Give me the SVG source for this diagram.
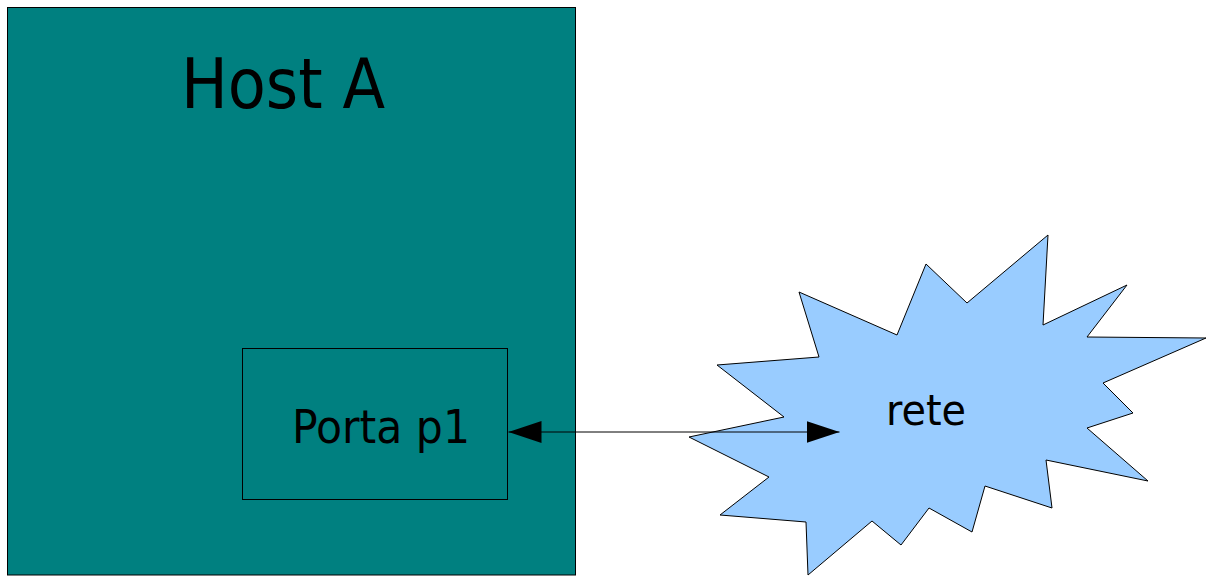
<svg xmlns="http://www.w3.org/2000/svg" width="1206" height="576" viewBox="0 0 1206 576">
  <style>
    .box { fill: #008080; stroke: #000; stroke-width: 1; }
    .label { font-family: "DejaVu Sans Condensed", "DejaVu Sans", sans-serif; font-stretch: condensed; fill: #000; }
    .cloud { fill: #99ccff; stroke: #000; stroke-width: 1; stroke-linejoin: miter; }
    .link { stroke: #000; stroke-width: 1; fill: none; }
  </style>
  <defs>
    <marker id="head" markerUnits="userSpaceOnUse" markerWidth="34" markerHeight="24" refX="33" refY="11" orient="auto-start-reverse">
      <path d="M0,0 L33,11 L0,22 Z" fill="#000"/>
    </marker>
  </defs>

  <g id="host-a">
    <rect class="box" x="7.5" y="7.5" width="568" height="567.5"/>
    <text class="label" x="181" y="108" font-size="69" textLength="204" lengthAdjust="spacingAndGlyphs">Host A</text>
  </g>

  <g id="porta-p1">
    <rect class="box" x="242.5" y="348.5" width="265" height="151"/>
    <text class="label" x="292" y="443" font-size="47" textLength="178" lengthAdjust="spacingAndGlyphs">Porta p1</text>
  </g>

  <g id="rete">
    <polygon class="cloud" points="1048,235 1043,325 1127,285 1087,337 1206,338 1103,383 1133,413 1087,428 1148,481 1046,460 1052,508 985,486 972,532 929,508 901,545 872,521 808,575 806,522 720,515 769,477 689,437 784,417 717,365 819,357 799,292 897,335 926,264 967,303"/>
    <text class="label" x="886" y="425" font-size="43" textLength="80" lengthAdjust="spacingAndGlyphs">rete</text>
  </g>

  <g id="connectors">
    <line class="link" x1="508.5" y1="432" x2="839.5" y2="432" marker-start="url(#head)" marker-end="url(#head)"/>
  </g>
</svg>
